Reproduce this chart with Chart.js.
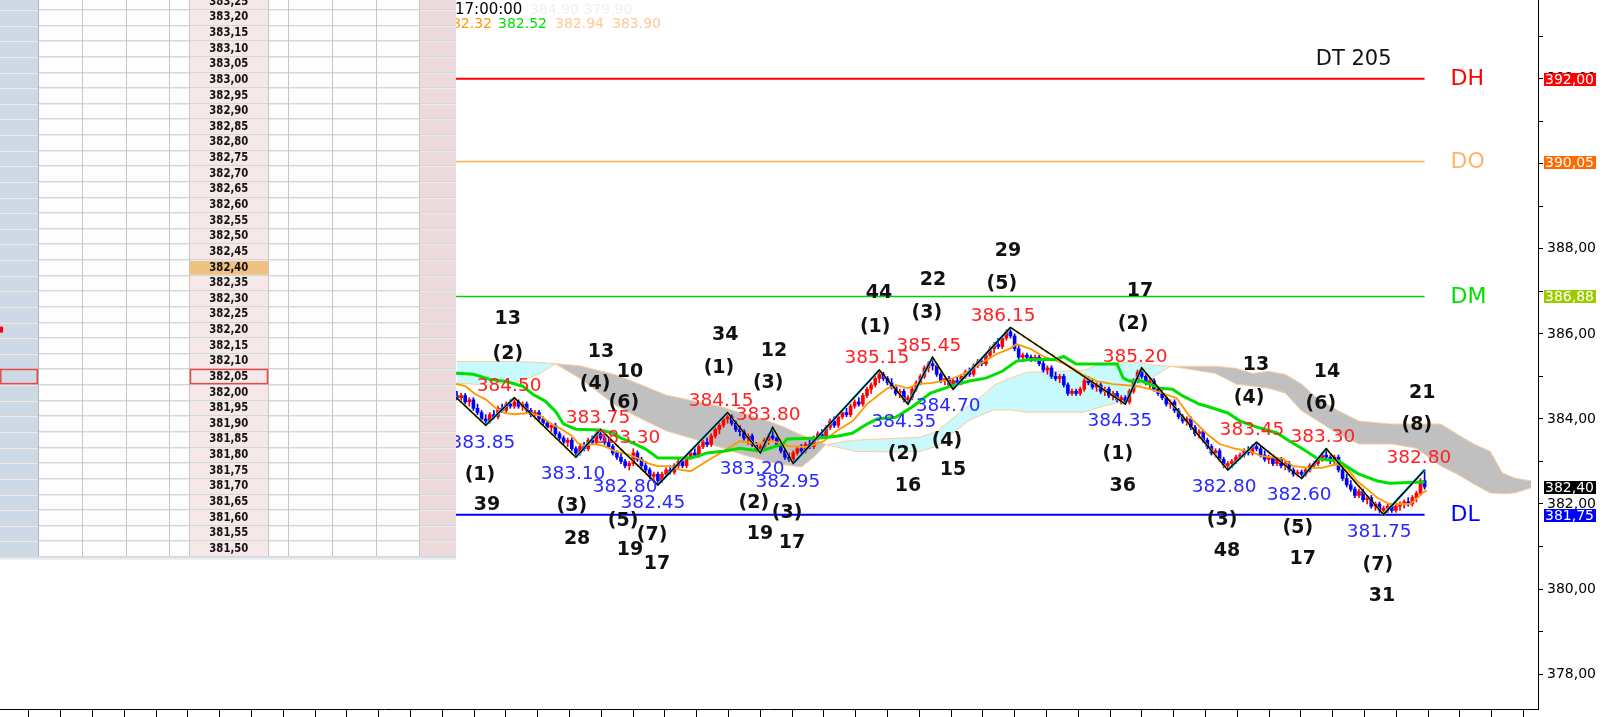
<!DOCTYPE html>
<html>
<head>
<meta charset="utf-8">
<script src="https://cdn.jsdelivr.net/npm/chart.js@4.4.1/dist/chart.umd.min.js"></script>
<style>
html,body{margin:0;padding:0;background:#fff;overflow:hidden}
#DataChart{display:block}
</style>
</head>
<body>
<canvas id="DataChart" width="1610" height="717"></canvas>
<script>
// one candle per bar index: [open, high, low, close]
const ohlc = [
 [384.55,384.65,384.45,384.50],[384.50,384.60,384.40,384.55],[384.55,384.60,384.35,384.40],[384.40,384.50,384.30,384.45],[384.45,384.50,384.20,384.25],
 [384.25,384.35,384.10,384.15],[384.15,384.20,383.95,384.00],[384.00,384.10,383.85,383.95],[383.95,384.15,383.90,384.10],[384.10,384.20,384.00,384.05],
 [384.05,384.30,384.00,384.25],[384.25,384.35,384.15,384.20],[384.20,384.40,384.15,384.35],[384.35,384.45,384.25,384.30],[384.30,384.50,384.25,384.40],
 [384.40,384.45,384.25,384.30],[384.30,384.40,384.20,384.35],[384.35,384.40,384.15,384.20],[384.20,384.25,384.05,384.10],[384.10,384.20,384.00,384.15],
 [384.15,384.20,383.95,384.00],[384.00,384.05,383.85,383.90],[383.90,383.95,383.75,383.80],[383.80,383.90,383.70,383.85],[383.85,383.90,383.60,383.65],
 [383.65,383.70,383.50,383.55],[383.55,383.60,383.40,383.45],[383.45,383.55,383.35,383.50],[383.50,383.55,383.25,383.30],[383.30,383.35,383.10,383.20],
 [383.20,383.40,383.15,383.35],[383.35,383.45,383.25,383.30],[383.30,383.55,383.25,383.50],[383.50,383.60,383.40,383.45],[383.45,383.70,383.40,383.65],
 [383.65,383.75,383.50,383.55],[383.55,383.60,383.40,383.45],[383.45,383.55,383.30,383.35],[383.35,383.40,383.15,383.20],[383.20,383.25,383.05,383.10],
 [383.10,383.20,382.95,383.00],[383.00,383.05,382.85,382.90],[382.90,383.00,382.80,382.95],[382.95,383.30,382.90,383.20],[383.20,383.25,383.00,383.05],
 [383.05,383.10,382.85,382.90],[382.90,383.00,382.75,382.80],[382.80,382.85,382.60,382.65],[382.65,382.75,382.50,382.70],[382.70,382.75,382.45,382.55],
 [382.55,382.75,382.50,382.70],[382.70,382.85,382.65,382.80],[382.80,382.90,382.70,382.75],[382.75,382.95,382.70,382.90],[382.90,383.05,382.85,383.00],
 [383.00,383.05,382.85,382.90],[382.90,383.15,382.85,383.10],[383.10,383.25,383.05,383.20],[383.20,383.30,383.10,383.15],[383.15,383.40,383.10,383.35],
 [383.35,383.50,383.30,383.45],[383.45,383.55,383.35,383.40],[383.40,383.65,383.35,383.60],[383.60,383.80,383.55,383.75],[383.75,383.90,383.65,383.85],
 [383.85,384.05,383.80,384.00],[384.00,384.15,383.90,384.05],[384.05,384.10,383.85,383.90],[383.90,383.95,383.70,383.75],[383.75,383.85,383.60,383.70],
 [383.70,383.75,383.50,383.55],[383.55,383.65,383.40,383.60],[383.60,383.65,383.35,383.40],[383.40,383.45,383.25,383.30],[383.30,383.40,383.20,383.35],
 [383.35,383.55,383.30,383.50],[383.50,383.65,383.40,383.60],[383.60,383.80,383.50,383.55],[383.55,383.60,383.35,383.40],[383.40,383.45,383.20,383.25],
 [383.25,383.30,383.05,383.10],[383.10,383.20,383.00,383.05],[383.05,383.25,382.95,383.20],[383.20,383.35,383.15,383.30],[383.30,383.40,383.20,383.25],
 [383.25,383.45,383.20,383.40],[383.40,383.50,383.30,383.35],[383.35,383.60,383.30,383.55],[383.55,383.70,383.50,383.65],[383.65,383.75,383.55,383.60],
 [383.60,383.85,383.55,383.80],[383.80,384.00,383.75,383.95],[383.95,384.05,383.80,383.85],[383.85,384.10,383.80,384.05],[384.05,384.20,384.00,384.15],
 [384.15,384.25,384.05,384.10],[384.10,384.35,384.05,384.30],[384.30,384.45,384.25,384.40],[384.40,384.50,384.30,384.35],[384.35,384.60,384.30,384.55],
 [384.55,384.75,384.50,384.70],[384.70,384.85,384.60,384.80],[384.80,385.00,384.75,384.95],[384.95,385.15,384.85,385.05],[385.05,385.10,384.90,384.95],
 [384.95,385.00,384.80,384.85],[384.85,384.95,384.70,384.75],[384.75,384.80,384.55,384.60],[384.60,384.70,384.50,384.65],[384.65,384.70,384.40,384.45],
 [384.45,384.55,384.35,384.50],[384.50,384.75,384.45,384.70],[384.70,384.90,384.65,384.85],[384.85,385.05,384.80,385.00],[385.00,385.25,384.95,385.20],
 [385.20,385.35,385.10,385.30],[385.30,385.45,385.15,385.25],[385.25,385.30,385.00,385.05],[385.05,385.10,384.85,384.90],[384.90,385.00,384.80,384.95],
 [384.95,385.00,384.75,384.80],[384.80,384.95,384.70,384.90],[384.90,385.00,384.80,384.85],[384.85,385.05,384.80,385.00],[385.00,385.15,384.95,385.10],
 [385.10,385.20,385.00,385.05],[385.05,385.30,385.00,385.25],[385.25,385.40,385.20,385.35],[385.35,385.45,385.25,385.30],[385.30,385.55,385.25,385.50],
 [385.50,385.70,385.45,385.65],[385.65,385.80,385.55,385.75],[385.75,385.90,385.65,385.70],[385.70,385.95,385.65,385.90],[385.90,386.10,385.85,386.05],
 [386.05,386.15,385.90,385.95],[385.95,386.00,385.60,385.65],[385.65,385.75,385.40,385.45],[385.45,385.55,385.35,385.50],[385.50,385.55,385.40,385.45],
 [385.45,385.50,385.35,385.40],[385.40,385.50,385.35,385.45],[385.45,385.50,385.25,385.30],[385.30,385.40,385.10,385.15],[385.15,385.25,385.05,385.20],
 [385.20,385.25,384.95,385.00],[385.00,385.10,384.90,384.95],[384.95,385.05,384.85,385.00],[385.00,385.05,384.75,384.80],[384.80,384.85,384.55,384.60],
 [384.60,384.70,384.55,384.65],[384.65,384.70,384.55,384.60],[384.60,384.75,384.55,384.70],[384.70,384.95,384.65,384.90],[384.90,385.00,384.80,384.85],
 [384.85,384.95,384.70,384.75],[384.75,384.85,384.65,384.80],[384.80,384.85,384.60,384.65],[384.65,384.75,384.55,384.70],[384.70,384.75,384.50,384.55],
 [384.55,384.65,384.45,384.60],[384.60,384.65,384.40,384.45],[384.45,384.55,384.35,384.50],[384.50,384.55,384.35,384.40],[384.40,384.70,384.35,384.65],
 [384.65,384.95,384.60,384.90],[384.90,385.15,384.85,385.10],[385.10,385.20,384.95,385.00],[385.00,385.05,384.80,384.85],[384.85,384.95,384.70,384.90],
 [384.90,384.95,384.65,384.70],[384.70,384.75,384.55,384.60],[384.60,384.70,384.45,384.50],[384.50,384.55,384.30,384.35],[384.35,384.45,384.25,384.40],
 [384.40,384.45,384.15,384.20],[384.20,384.25,384.00,384.05],[384.05,384.10,383.90,383.95],[383.95,384.05,383.85,384.00],[384.00,384.05,383.75,383.80],
 [383.80,383.85,383.60,383.65],[383.65,383.75,383.55,383.70],[383.70,383.75,383.45,383.50],[383.50,383.55,383.30,383.35],[383.35,383.40,383.15,383.20],
 [383.20,383.30,383.10,383.25],[383.25,383.30,383.00,383.05],[383.05,383.10,382.85,382.90],[382.90,383.00,382.80,382.95],[382.95,383.05,382.85,383.00],
 [383.00,383.15,382.95,383.10],[383.10,383.20,383.05,383.15],[383.15,383.30,383.10,383.25],[383.25,383.35,383.15,383.20],[383.20,383.40,383.15,383.35],
 [383.35,383.45,383.25,383.30],[383.30,383.35,383.10,383.15],[383.15,383.25,383.00,383.05],[383.05,383.15,382.95,383.10],[383.10,383.15,382.90,382.95],
 [382.95,383.10,382.90,383.05],[383.05,383.10,382.85,382.90],[382.90,383.00,382.80,382.95],[382.95,383.00,382.75,382.80],[382.80,382.85,382.65,382.70],
 [382.70,382.80,382.65,382.75],[382.75,382.80,382.60,382.70],[382.70,382.85,382.65,382.80],[382.80,382.95,382.75,382.90],[382.90,383.00,382.85,382.95],
 [382.95,383.10,382.90,383.05],[383.05,383.20,383.00,383.15],[383.15,383.30,383.05,383.10],[383.10,383.15,382.95,383.05],[383.05,383.15,382.90,383.10],
 [383.10,383.15,382.75,382.80],[382.80,382.85,382.55,382.60],[382.60,382.70,382.40,382.45],[382.45,382.55,382.30,382.35],[382.35,382.40,382.15,382.20],
 [382.20,382.35,382.15,382.30],[382.30,382.35,382.05,382.10],[382.10,382.20,382.00,382.15],[382.15,382.20,381.90,381.95],[381.95,382.05,381.85,382.00],
 [382.00,382.05,381.80,381.85],[381.85,381.95,381.75,381.90],[381.90,382.00,381.80,381.95],[381.95,382.00,381.80,381.85],[381.85,382.00,381.80,381.95],
 [381.95,382.05,381.85,382.00],[382.00,382.10,381.90,382.05],[382.05,382.15,381.95,382.00],[382.00,382.20,381.95,382.15],[382.15,382.30,382.05,382.25],
 [382.25,382.60,382.20,382.55],[382.55,382.80,382.35,382.40]
];

// zigzag pivots (bar index, price)
const pivotBar   = [-2, 7, 14, 29, 35, 49, 66, 74, 77, 82, 103, 110, 116, 121, 135, 163, 167, 188, 195, 206, 212, 226, 236];
const pivotPrice = [384.67, 383.85, 384.50, 383.10, 383.75, 382.45, 384.15, 383.20, 383.80, 382.95, 385.15, 384.35, 385.45, 384.70, 386.15, 384.35, 385.20, 382.80, 383.45, 382.60, 383.30, 381.75, 382.80];

// green (slow) line
const greenBar = [-1,4,8,12,16,18.5,21.5,24,26,29,35,38,40,43,46,49,57,59,61,65,69,74,79.5,80.5,88.5,93,96.5,100,102.5,107,111,115.5,121,125,129,133,136.5,140,146,148,151,161,162.5,164,167,171.5,174.5,177,181,183.5,188,191,196,200,203,206,210,215,218,220,224.5,227.5,236];
const greenVal = [385.08,385.05,384.93,384.88,384.77,384.58,384.42,384.18,383.88,383.76,383.74,383.67,383.55,383.43,383.29,383.08,383.08,383.13,383.20,383.24,383.31,383.24,383.41,383.53,383.55,383.60,383.67,383.88,384.00,384.04,384.28,384.61,384.79,384.89,384.96,385.12,385.36,385.40,385.40,385.47,385.29,385.29,384.96,384.89,384.89,384.72,384.70,384.54,384.35,384.28,384.14,383.95,383.78,383.67,383.48,383.31,383.06,383.01,382.82,382.70,382.54,382.49,382.52];

// orange (fast) line
const orangeBar = [-1,2,4.5,7,9.5,11.5,14,17.5,20.5,23,25.5,28,29.5,31,33.5,36,38.5,41.5,44,46.5,49,51.5,54.5,57,61,65,69,73,77,81,85.5,89.5,92.5,96.5,100,102.5,105,107.5,110,112,115.5,119.5,123.5,127.5,131.5,135,136.5,140,143,146.5,149.5,152.5,156,160,166,169,172,175.5,179,183,186,189.5,193.5,196,201.5,204,208,211,214.5,217,219.5,222,224.5,227.5,232.5,234,235.5,236.5];
const orangeVal = [384.84,384.77,384.58,384.46,384.25,384.14,384.11,384.14,384.07,383.88,383.76,383.60,383.43,383.38,383.41,383.36,383.24,383.17,383.08,382.96,382.89,382.89,382.80,382.77,383.01,383.24,383.48,383.41,383.48,383.36,383.34,383.48,383.71,383.95,384.35,384.54,384.72,384.79,384.72,384.82,384.84,384.91,385.05,385.29,385.52,385.66,385.76,385.64,385.47,385.36,385.24,385.05,384.89,384.82,384.77,384.70,384.61,384.49,384.02,383.64,383.41,383.31,383.24,383.13,383.06,382.89,382.85,382.85,382.94,382.85,382.54,382.35,382.14,382.00,382.00,382.12,382.26,382.32];

// cloud spans (shifted forward)
const cloudBar = [0,8,15,20,24,30,39,45,51,58,64,70,76,80,84,87,90,97,108,113,117,121,125,129,131,135,139,147,153,157,162,166,170,174,185,190,194,198,202,206,210,215,220,228,234,240,244,248,252,255,258,262];
const spanA = [385.35,385.35,385.35,385.33,385.30,384.95,384.30,384.00,383.72,383.52,383.34,383.15,382.99,382.92,382.87,383.10,383.40,383.50,383.55,383.57,383.71,384.02,384.33,384.61,384.80,384.96,385.10,385.12,385.15,385.29,385.33,385.33,385.26,385.24,385.07,384.82,384.77,384.72,384.61,384.19,383.95,383.64,383.41,383.41,383.31,382.89,382.70,382.47,382.26,382.24,382.26,382.38];
const spanB = [384.84,384.80,384.88,385.05,385.30,385.25,385.03,384.80,384.56,384.42,384.30,384.12,383.95,383.80,383.62,383.52,383.40,383.24,383.22,383.24,383.36,383.67,383.97,384.14,384.21,384.21,384.16,384.16,384.16,384.28,384.40,384.75,385.00,385.24,385.24,385.19,385.07,385.12,385.05,384.82,384.47,384.19,383.95,383.88,383.88,383.88,383.64,383.41,383.24,382.73,382.61,382.54];

// daily levels
const levelName  = ['DH', 'DO', 'DM', 'DL'];
const levelValue = [392.00, 390.05, 386.88, 381.75];
const levelColor = ['#ff0000', '#ffb466', '#00d400', '#0000ff'];
const levelText  = ['#ff0000', '#ffb466', '#00dd00', '#0000ff'];
const levelBadge = ['#ff0000', '#ff6a00', '#9ccc00', '#0000ff'];
const lastPrice = 382.40;

// wave counts (black)
const waveText  = ['13','(2)','(1)','39','13','10','(4)','(6)','(3)','28','(5)','19','(7)','17','34','(1)','12','(3)','(2)','19','(3)','17','44','(1)','22','(3)','29','(5)','(2)','16','(4)','15','17','(2)','(1)','36','13','(4)','14','(6)','21','(8)','(3)','48','(5)','17','(7)','31'];
const waveBar   = [12.4,12.4,5.6,7.3,35.1,42.2,33.7,40.7,28,29.3,40.5,42.2,47.6,48.8,65.4,63.9,77.3,75.9,72.4,73.9,80.5,81.7,102.9,102,116.1,114.6,134.4,132.9,108.8,110,119.5,121,166.6,164.9,161.2,162.4,194.9,193.2,212.2,210.7,235.4,234.1,186.6,187.8,205.1,206.3,224.6,225.6];
const wavePrice = [386.34,385.52,382.68,381.98,385.57,385.10,384.82,384.37,381.95,381.18,381.60,380.92,381.27,380.59,385.97,385.19,385.59,384.84,382.02,381.30,381.79,381.08,386.95,386.15,387.26,386.48,387.94,387.16,383.17,382.42,383.48,382.80,387.00,386.23,383.17,382.42,385.26,384.49,385.10,384.35,384.61,383.85,381.62,380.90,381.44,380.71,380.57,379.84];

// pivot price tags
const highText  = ['384.50','383.75','383.30','384.15','383.80','385.15','385.45','386.15','385.20','383.45','383.30','382.80'];
const highBar   = [12.7,34.4,41.7,64.4,75.9,102.4,115.1,133.2,165.4,193.9,211.2,234.6];
const highPrice = [384.77,384.02,383.55,384.42,384.09,385.43,385.71,386.41,385.45,383.74,383.57,383.08];
const lowText   = ['383.85','383.10','382.80','382.45','383.20','382.95','384.35','384.70','384.35','382.80','382.60','381.75'];
const lowBar    = [6.3,28.3,41,47.8,72,80.7,109,119.8,161.7,187.1,205.4,224.9];
const lowPrice  = [383.43,382.70,382.40,382.02,382.82,382.52,383.92,384.30,383.95,382.40,382.21,381.34];

// price ladder rows of the order panel
const ladderRows = ['383,25','383,20','383,15','383,10','383,05','383,00','382,95','382,90','382,85','382,80','382,75','382,70',
  '382,65','382,60','382,55','382,50','382,45','382,40','382,35','382,30','382,25','382,20','382,15','382,10',
  '382,05','382,00','381,95','381,90','381,85','381,80','381,75','381,70','381,65','381,60','381,55','381,50'];

const lastBar = ohlc.length - 1;
const X_MIN = -111.46, X_MAX = 263.66;
const Y_MIN = 377.18, Y_MAX = 393.85;
const FONT = '"DejaVu Sans", Verdana, sans-serif';

const pts = (xs, ys) => xs.map((x, k) => ({ x: x, y: ys[k] }));
const candleColor = ohlc.map(b => b[3] >= b[0] ? '#ff0000' : '#0000ff');

const datasets = [
  { label: 'spanA', data: pts(cloudBar, spanA), borderColor: '#ffcc99', borderWidth: 1, pointRadius: 0,
    fill: { target: '+1', above: '#c8fafd', below: '#c0c0c0' }, order: 20 },
  { label: 'spanB', data: pts(cloudBar, spanB), borderColor: '#ffcc99', borderWidth: 1, pointRadius: 0, fill: false, order: 19 }
];
levelName.forEach((n, k) => {
  datasets.push({ label: n, data: [{ x: X_MIN, y: levelValue[k] }, { x: lastBar, y: levelValue[k] }],
    borderColor: levelColor[k], borderWidth: k === 0 || k === 3 ? 2 : 1.6, pointRadius: 0, fill: false, order: 15 });
});
datasets.push(
  { type: 'bar', label: 'wick', data: ohlc.map((b, i) => ({ x: i, y: [b[2], b[1]] })),
    backgroundColor: candleColor, barThickness: 1, grouped: false, order: 12 },
  { type: 'bar', label: 'body', data: ohlc.map((b, i) => ({ x: i, y: [b[0], b[3]] })),
    backgroundColor: candleColor, barThickness: 3, minBarLength: 1, grouped: false, order: 11 },
  { label: 'orange', data: pts(orangeBar, orangeVal), borderColor: '#ff9900', borderWidth: 1.8, pointRadius: 0, fill: false, order: 9 },
  { label: 'green', data: pts(greenBar, greenVal), borderColor: '#00e000', borderWidth: 3, pointRadius: 0, fill: false, order: 8 },
  { label: 'subwave', data: pts(pivotBar, pivotPrice), borderWidth: 2.6, pointRadius: 0, fill: false, order: 6,
    segment: {
      borderColor: c => (c.p1.parsed.y > c.p0.parsed.y ? '#30e0ff' : '#f0e000'),
      borderDash: c => (c.p1.parsed.y > c.p0.parsed.y ? [] : [4, 3])
    } },
  { label: 'zigzag', data: pts(pivotBar, pivotPrice), borderColor: '#000000', borderWidth: 1.5, pointRadius: 0, fill: false, order: 5 }
);

function drawLadder(ctx) {
  const cols = [0, 38.3, 82.3, 126, 169.3, 189.3, 268.3, 288.3, 331.7, 375.7, 419, 456];
  const rowH = 15.63, top0 = 9 - rowH, bottom = top0 + rowH * ladderRows.length;
  ctx.fillStyle = '#fdfdfd';
  ctx.fillRect(0, 0, 456, bottom);
  ctx.fillStyle = '#cddae5'; ctx.fillRect(0, 0, 38.3, bottom);
  ctx.fillStyle = '#f6e8e8'; ctx.fillRect(189.3, 0, 79, bottom);
  ctx.fillStyle = '#ecdadd'; ctx.fillRect(419, 0, 37, bottom);
  // highlighted current price cell
  const hl = ladderRows.indexOf('382,40');
  ctx.fillStyle = '#efc183';
  ctx.fillRect(189.3, top0 + hl * rowH, 79, rowH);
  // grid
  ctx.lineWidth = 1;
  for (let r = 0; r <= ladderRows.length; r++) {
    const y = Math.round(top0 + r * rowH) + 0.5;
    ctx.strokeStyle = '#d6d6d6';
    ctx.beginPath(); ctx.moveTo(0, y); ctx.lineTo(456, y); ctx.stroke();
    ctx.strokeStyle = '#ececec';
    ctx.beginPath(); ctx.moveTo(0, y + 1); ctx.lineTo(456, y + 1); ctx.stroke();
  }
  ctx.strokeStyle = '#c4c4c4';
  cols.slice(1, -1).forEach(c => {
    const x = Math.round(c) + 0.5;
    ctx.beginPath(); ctx.moveTo(x, 0); ctx.lineTo(x, bottom); ctx.stroke();
  });
  ctx.strokeStyle = '#aab8c4';
  ctx.beginPath(); ctx.moveTo(38.5, 0); ctx.lineTo(38.5, bottom); ctx.stroke();
  // bottom border band
  ctx.fillStyle = '#dcdcdc'; ctx.fillRect(0, bottom, 456, 2);
  ctx.fillStyle = '#e8eef4'; ctx.fillRect(0, bottom + 2, 456, 2);
  // selected row outline
  const sel = ladderRows.indexOf('382,05');
  ctx.strokeStyle = '#e84848'; ctx.lineWidth = 1.5;
  ctx.strokeRect(190.5, top0 + sel * rowH + 1, 77, rowH - 1.5);
  ctx.strokeRect(0.8, top0 + sel * rowH + 1, 36.5, rowH - 1.5);
  // small red marker
  const mk = ladderRows.indexOf('382,20');
  ctx.fillStyle = '#ff0000'; ctx.fillRect(0, top0 + mk * rowH + 5, 3, 6);
  // prices
  ctx.fillStyle = '#111';
  ctx.font = 'bold 12px ' + FONT;
  ctx.textAlign = 'center'; ctx.textBaseline = 'middle';
  ladderRows.forEach((t, r) => {
    ctx.save();
    ctx.translate(228.8, top0 + (r + 0.5) * rowH + 0.5);
    ctx.scale(0.84, 1);
    ctx.fillText(t, 0, 0);
    ctx.restore();
  });
}

const overlay = {
  id: 'overlay',
  afterDraw(chart) {
    const ctx = chart.ctx, xs = chart.scales.x, ys = chart.scales.y;
    const px = v => xs.getPixelForValue(v), py = v => ys.getPixelForValue(v);
    ctx.save();
    ctx.textAlign = 'center'; ctx.textBaseline = 'middle';

    ctx.font = '18.5px ' + FONT;
    ctx.fillStyle = '#ff2020';
    highText.forEach((t, k) => ctx.fillText(t, px(highBar[k]), py(highPrice[k])));
    ctx.fillStyle = '#2828ff';
    lowText.forEach((t, k) => ctx.fillText(t, px(lowBar[k]), py(lowPrice[k])));

    ctx.font = 'bold 19px ' + FONT;
    ctx.fillStyle = '#111';
    waveText.forEach((t, k) => ctx.fillText(t, px(waveBar[k]), py(wavePrice[k])));

    // level names right of the last bar
    const endX = px(lastBar);
    ctx.font = '22px ' + FONT;
    ctx.textAlign = 'left';
    levelName.forEach((n, k) => {
      ctx.fillStyle = levelText[k];
      ctx.fillText(n, endX + 26, py(levelValue[k]) + 1);
    });
    ctx.fillStyle = '#111';
    ctx.textAlign = 'right';
    ctx.font = '21px ' + FONT;
    ctx.fillText('DT 205', endX - 33, py(levelValue[0]) - 19);

    // header readouts
    ctx.textAlign = 'left';
    ctx.font = '15px ' + FONT;
    ctx.fillStyle = '#000';
    ctx.fillText('382,40 ㅗ 382,40, 382,40', 440, -6);
    ctx.fillText('17:00:00', 455, 10);
    ctx.font = '14px ' + FONT;
    ctx.fillStyle = '#f0f0f0';
    ctx.fillText('384.90 379.90', 530, 10);
    ctx.textAlign = 'right';
    ctx.fillStyle = '#ff9900';
    ctx.fillText('382.32', 492, 24);
    ctx.textAlign = 'left';
    ctx.fillStyle = '#00e000';
    ctx.fillText('382.52', 498, 24);
    ctx.fillStyle = '#ffc896';
    ctx.fillText('382.94', 555, 24);
    ctx.fillText('383.90', 612, 24);

    drawLadder(ctx);

    // price badges on the axis
    ctx.font = '14px ' + FONT;
    ctx.textAlign = 'left'; ctx.textBaseline = 'middle';
    const badge = (v, bg) => {
      const t = v.toFixed(2).replace('.', ',');
      const w = ctx.measureText(t).width;
      const y = Math.round(py(v));
      ctx.fillStyle = bg;
      ctx.fillRect(ys.left + 6, y - 6, w + 3, 13);
      ctx.fillStyle = '#fff';
      ctx.fillText(t, ys.left + 7, y + 1);
    };
    levelValue.forEach((v, k) => badge(v, levelBadge[k]));
    badge(lastPrice, '#000000');
    ctx.restore();
  }
};

new Chart(document.getElementById('DataChart'), {
  type: 'line',
  data: { datasets: datasets },
  options: {
    responsive: false,
    animation: false,
    layout: { padding: 0 },
    plugins: { legend: { display: false }, tooltip: { enabled: false } },
    scales: {
      x: {
        type: 'linear', min: X_MIN, max: X_MAX, offset: false,
        grid: { drawOnChartArea: false, offset: false, tickLength: 8, color: '#000' },
        border: { color: '#000' },
        ticks: { display: false },
        afterBuildTicks: s => {
          const t = [];
          for (let v = -104.39; v < X_MAX; v += 7.756) t.push({ value: v });
          s.ticks = t;
        }
      },
      y: {
        position: 'right', min: Y_MIN, max: Y_MAX,
        grid: { drawOnChartArea: false, tickLength: 5, color: '#000' },
        border: { color: '#000' },
        ticks: {
          stepSize: 1, includeBounds: false, autoSkip: false, padding: 4, color: '#000',
          font: { family: FONT, size: 14 },
          callback: v => (Math.round(v) % 2 === 0 ? v.toFixed(2).replace('.', ',') : '')
        },
        afterFit: s => { s.width = 72; s.paddingTop = 0; s.paddingBottom = 0; }
      }
    }
  },
  plugins: [overlay]
});
</script>
</body>
</html>
